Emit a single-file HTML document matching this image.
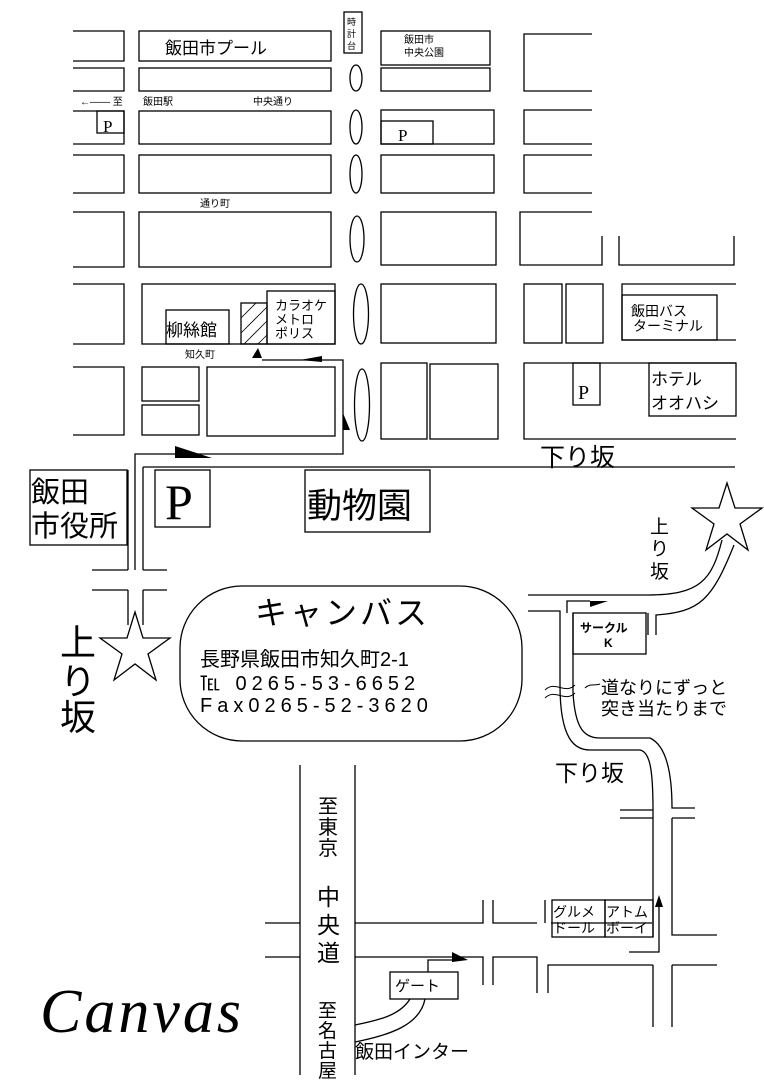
<!DOCTYPE html>
<html><head><meta charset="utf-8"><style>
body{margin:0;background:#fff}
svg{display:block}
text{font-family:"Liberation Sans","Noto Sans CJK JP",sans-serif;fill:#000}
.s{font-family:"Liberation Serif","Noto Serif CJK SC",serif}
</style></head><body>
<svg width="764" height="1085" viewBox="0 0 764 1085" xmlns="http://www.w3.org/2000/svg">
<g fill="none" stroke="#000" stroke-width="1.3">
<path d="M73 31H124V61H73M73 68H124V91H73M73 111H124V144H73M73 155H124V193H73M73 212H124V267H73M73 284H124V344H73M73 367H124V435H73"/>
<rect x="97" y="111" width="27" height="22"/>
<rect x="139" y="31" width="192" height="30"/>
<rect x="139" y="68" width="192" height="23"/>
<rect x="139" y="111" width="192" height="33"/>
<rect x="139" y="155" width="192" height="38"/>
<rect x="139" y="212" width="192" height="55"/>
<rect x="142" y="284" width="193" height="60"/>
<rect x="166" y="310" width="63" height="34"/>
<rect x="241" y="303" width="26" height="41"/>
<rect x="267" y="291" width="68" height="53"/>
<rect x="142" y="367" width="57" height="34"/>
<rect x="142" y="405" width="57" height="30"/>
<rect x="207" y="367" width="128" height="69"/>
<rect x="344" y="12" width="18" height="41"/>
<ellipse cx="356" cy="78" rx="6" ry="13"/>
<ellipse cx="356" cy="127" rx="6" ry="17"/>
<ellipse cx="356" cy="174" rx="6" ry="19"/>
<ellipse cx="357" cy="239" rx="7" ry="23"/>
<ellipse cx="361" cy="314" rx="7.5" ry="30"/>
<ellipse cx="362" cy="405" rx="7.5" ry="36"/>
<rect x="381" y="31" width="109" height="34"/>
<rect x="381" y="68" width="109" height="23"/>
<rect x="381" y="110" width="113" height="34"/>
<rect x="381" y="121" width="52" height="23"/>
<rect x="381" y="155" width="113" height="38"/>
<rect x="381" y="212" width="115" height="53"/>
<rect x="381" y="284" width="115" height="59"/>
<rect x="381" y="363" width="46" height="76"/>
<rect x="430" y="364" width="68" height="75"/>
<path d="M592 34H524V91H592M592 110H524V144H592M592 155H524V193H592M592 212H520V265H602V236M619 236V265H734V236"/>
<rect x="524" y="284" width="38" height="59"/>
<rect x="566" y="284" width="37" height="59"/>
<path d="M736 284H622V340H736"/>
<rect x="622" y="295" width="95" height="45"/>
<path d="M736 363H524V439H736"/>
<rect x="573" y="363" width="27" height="42"/>
<rect x="649" y="363" width="87" height="53"/>
<path d="M241 318L256 303M241 333L267 307M244 344L267 321M258 344L267 335" stroke-width="0.8"/>
<path d="M262 360H343V454H135V570"/>
<path d="M143 467H735"/>
<path d="M143 467V570M128 470V570"/>
<rect x="30" y="470" width="97" height="75"/>
<rect x="155" y="470" width="55" height="57"/>
<rect x="305" y="470" width="125" height="62"/>
<path d="M92 570H128M143 570H167M92 590H128M143 590H167M128 590V625M143 590V625"/>
<rect x="180" y="586" width="342" height="155" rx="62"/>
<path d="M528 595H648C700 595 712 580 722 540"/>
<path d="M528 611H560V685C560 740 575 750 590 750H640C650 752 653 770 653 810V937"/>
<path d="M567 613V601H590"/>
<path d="M573 613V692C575 730 585 738 600 738H650C665 745 672 770 672 808H695M672 818H695M672 818V935H717"/>
<path d="M620 810H653M620 818H653"/>
<path d="M656 635V615C700 612 712 600 734 545"/>
<path d="M648 613V635"/>
<rect x="573" y="613" width="73" height="41"/>
<path d="M545 690C555 680 565 695 575 685M545 698C555 688 565 703 575 693M585 688C590 683 595 686 600 684" stroke-width="1"/>
<path d="M300 765V1075M355 765V1075"/>
<path d="M265 923H300M355 923H483V900M493 900V923H537M545 923V900M551 923H652"/>
<path d="M265 957H300M355 957H483V985M493 985V957H537V993M548 993V965H653M653 965V1027M672 965H717M672 965V1027"/>
<path d="M629 952H659V907"/>
<rect x="552" y="900" width="53" height="37"/>
<rect x="605" y="900" width="48" height="37"/>
<rect x="390" y="972" width="68" height="27"/>
<path d="M428 972V960H452"/>
<path d="M410 999C400 1015 380 1020 355 1025M425 999C420 1025 390 1035 355 1042"/>
<polygon points="135,612 143,638 170,638 148,654 156,680 135,664 114,680 122,654 100,638 127,638" fill="#fff"/>
<polygon points="727,483 735,508 762,508 740,524 748,550 727,534 706,550 714,524 692,508 719,508" fill="#fff"/>
</g>
<g fill="#000">
<polygon points="252,358 262,358 258,348"/>
<polygon points="300,360 322,356 322,362"/>
<polygon points="343,430 343,413 350,430"/>
<polygon points="175,446 212,458 175,458"/>
<polygon points="590,601 608,601 590,607"/>
<polygon points="659,895 663,907 655,907"/>
<polygon points="452,952 468,960 452,962"/>
</g>
<text x="165" y="54" font-size="17">飯田市プール</text>
<text x="347" y="25" font-size="9">時</text><text x="347" y="37" font-size="9">計</text><text x="347" y="49" font-size="9">台</text>
<text x="404" y="43" font-size="10">飯田市</text><text x="404" y="56" font-size="10">中央公園</text>
<text x="80" y="105" font-size="10">←―― 至</text>
<text x="143" y="105" font-size="10">飯田駅</text>
<text x="253" y="105" font-size="10">中央通り</text>
<text x="103" y="132" font-size="17" class="s">P</text>
<text x="398" y="141" font-size="17" class="s">P</text>
<text x="200" y="207" font-size="10">通り町</text>
<text x="166" y="336" font-size="17">柳絲館</text>
<text x="275" y="310" font-size="13">カラオケ</text>
<text x="275" y="324" font-size="13">メトロ</text>
<text x="275" y="338" font-size="13">ポリス</text>
<text x="185" y="358" font-size="10">知久町</text>
<text x="631" y="316" font-size="14">飯田バス</text>
<text x="633" y="331" font-size="14">ターミナル</text>
<text x="578" y="399" font-size="20" class="s">P</text>
<text x="651" y="385" font-size="17">ホテル</text>
<text x="651" y="409" font-size="17">オオハシ</text>
<text x="540" y="466" font-size="25">下り坂</text>
<text x="31" y="502" font-size="29">飯田</text>
<text x="31" y="536" font-size="29">市役所</text>
<text x="165" y="519" font-size="50" class="s">P</text>
<text x="307" y="518" font-size="35">動物園</text>
<text x="650" y="533" font-size="19">上</text><text x="650" y="555" font-size="19">り</text><text x="650" y="578" font-size="19">坂</text>
<text x="60" y="655" font-size="36">上</text><text x="60" y="694" font-size="36">り</text><text x="60" y="730" font-size="36">坂</text>
<text x="255" y="624" font-size="32" letter-spacing="3">キャンバス</text>
<text x="200" y="666" font-size="20">長野県飯田市知久町2-1</text>
<text x="200" y="690" font-size="20" letter-spacing="5">℡ 0265-53-6652</text>
<text x="200" y="712" font-size="20" letter-spacing="5">Fax0265-52-3620</text>
<text x="580" y="632" font-size="12" font-weight="bold">サークル</text>
<text x="604" y="647" font-size="12" font-weight="bold">K</text>
<text x="601" y="694" font-size="18">道なりにずっと</text>
<text x="601" y="715" font-size="18">突き当たりまで</text>
<text x="555" y="781" font-size="23">下り坂</text>
<text x="553" y="917" font-size="14">グルメ</text><text x="553" y="933" font-size="14">ドール</text>
<text x="606" y="917" font-size="14">アトム</text><text x="606" y="933" font-size="14">ボーイ</text>
<text x="395" y="991" font-size="15">ゲート</text>
<text x="318" y="813" font-size="20">至</text><text x="318" y="834" font-size="20">東</text><text x="318" y="855" font-size="20">京</text>
<text x="317" y="905" font-size="23">中</text><text x="317" y="933" font-size="23">央</text><text x="317" y="961" font-size="23">道</text>
<text x="318" y="1017" font-size="19">至</text><text x="318" y="1037" font-size="19">名</text><text x="318" y="1057" font-size="19">古</text><text x="318" y="1077" font-size="19">屋</text>
<text x="355" y="1058" font-size="19">飯田インター</text>
<text x="40" y="1032" font-size="62" class="s" font-style="italic" letter-spacing="3">Canvas</text>
</svg>
</body></html>
